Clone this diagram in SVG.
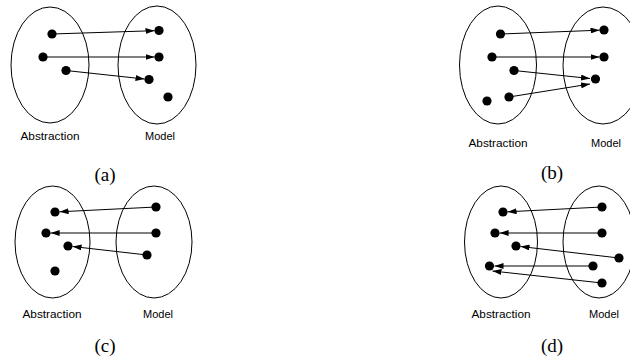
<svg xmlns="http://www.w3.org/2000/svg" width="630" height="360" viewBox="0 0 630 360">
<defs>
<marker id="ah" markerUnits="userSpaceOnUse" markerWidth="10" markerHeight="6" refX="9" refY="3" orient="auto">
<path d="M0,0 L9,3 L0,6 z" fill="#000"/>
</marker>
<style>
.set{fill:none;stroke:#000;stroke-width:1}
.dot{fill:#000}
.arr{stroke:#000;stroke-width:1;fill:none;marker-end:url(#ah)}
.lbl{font-family:"Liberation Sans",Arial,sans-serif;font-size:11px;fill:#000;text-anchor:middle}
.cap{font-family:"Liberation Serif","Times New Roman",serif;font-size:19px;fill:#000;text-anchor:middle}
</style>
</defs>
<rect width="630" height="360" fill="#fff"/>

<!-- Panel (a) -->
<g id="panel-a">
<g id="a-abstraction"><ellipse class="set" cx="50" cy="65" rx="39" ry="58"/>
<circle class="dot" cx="52" cy="34" r="4.6"/><circle class="dot" cx="43" cy="57" r="4.6"/><circle class="dot" cx="66" cy="70.5" r="4.6"/>
<text class="lbl" x="50" y="140" textLength="59" lengthAdjust="spacingAndGlyphs">Abstraction</text></g>
<g id="a-model"><ellipse class="set" cx="157" cy="65" rx="39" ry="59"/>
<circle class="dot" cx="159" cy="30.5" r="4.6"/><circle class="dot" cx="159" cy="57" r="4.6"/><circle class="dot" cx="149" cy="79.5" r="4.6"/><circle class="dot" cx="168" cy="97" r="4.6"/>
<text class="lbl" x="160" y="140">Model</text></g>
<text class="cap" x="105" y="180.5">(a)</text>
</g>

<!-- Panel (b) -->
<g id="panel-b">
<g id="b-abstraction"><ellipse class="set" cx="498" cy="65" rx="38.5" ry="59"/>
<circle class="dot" cx="500.5" cy="34" r="4.6"/><circle class="dot" cx="492" cy="57" r="4.6"/><circle class="dot" cx="514" cy="70.5" r="4.6"/><circle class="dot" cx="487" cy="101" r="4.6"/><circle class="dot" cx="509" cy="97" r="4.6"/>
<text class="lbl" x="498" y="147" textLength="59" lengthAdjust="spacingAndGlyphs">Abstraction</text></g>
<g id="b-model"><ellipse class="set" cx="603" cy="65.5" rx="40" ry="58.5"/>
<circle class="dot" cx="604" cy="30" r="4.6"/><circle class="dot" cx="604" cy="57" r="4.6"/><circle class="dot" cx="595.5" cy="79" r="4.6"/>
<text class="lbl" x="606" y="147">Model</text></g>
<text class="cap" x="552" y="179">(b)</text>
</g>

<!-- Panel (c) -->
<g id="panel-c">
<g id="c-abstraction"><ellipse class="set" cx="52.5" cy="242" rx="37.5" ry="56"/>
<circle class="dot" cx="55" cy="212" r="4.6"/><circle class="dot" cx="46" cy="233" r="4.6"/><circle class="dot" cx="68" cy="246" r="4.6"/><circle class="dot" cx="55" cy="271" r="4.6"/>
<text class="lbl" x="52" y="318" textLength="59" lengthAdjust="spacingAndGlyphs">Abstraction</text></g>
<g id="c-model"><ellipse class="set" cx="154" cy="242" rx="38" ry="56"/>
<circle class="dot" cx="156" cy="207" r="4.6"/><circle class="dot" cx="156" cy="233" r="4.6"/><circle class="dot" cx="147" cy="255" r="4.6"/>
<text class="lbl" x="158" y="318">Model</text></g>
<text class="cap" x="105" y="352">(c)</text>
</g>

<!-- Panel (d) -->
<g id="panel-d">
<g id="d-abstraction"><ellipse class="set" cx="501" cy="242" rx="36.5" ry="56"/>
<circle class="dot" cx="503" cy="212" r="4.6"/><circle class="dot" cx="495" cy="233" r="4.6"/><circle class="dot" cx="516" cy="246" r="4.6"/><circle class="dot" cx="489.5" cy="266" r="4.6"/>
<text class="lbl" x="501" y="318" textLength="59" lengthAdjust="spacingAndGlyphs">Abstraction</text></g>
<g id="d-model"><ellipse class="set" cx="599" cy="242" rx="36" ry="56"/>
<circle class="dot" cx="602" cy="207" r="4.6"/><circle class="dot" cx="602" cy="233" r="4.6"/><circle class="dot" cx="619" cy="258" r="4.6"/><circle class="dot" cx="593" cy="266" r="4.6"/><circle class="dot" cx="602" cy="283" r="4.6"/>
<text class="lbl" x="604" y="318">Model</text></g>
<text class="cap" x="552" y="351.5">(d)</text>
</g>

<g id="connectors">
<line class="arr" x1="52" y1="34" x2="154.5" y2="30.7"/>
<line class="arr" x1="43" y1="57" x2="154.5" y2="57"/>
<line class="arr" x1="66" y1="70.5" x2="144.5" y2="79"/>

<line class="arr" x1="500.5" y1="34" x2="599.5" y2="30.2"/>
<line class="arr" x1="492" y1="57" x2="599.5" y2="57"/>
<line class="arr" x1="514" y1="70.5" x2="590" y2="78.5"/>
<line class="arr" x1="509" y1="97" x2="590" y2="84"/>

<line class="arr" x1="156" y1="207" x2="59.6" y2="211.8"/>
<line class="arr" x1="156" y1="233" x2="50.6" y2="233"/>
<line class="arr" x1="147" y1="255" x2="72.6" y2="246.5"/>

<line class="arr" x1="602" y1="207" x2="507.6" y2="211.8"/>
<line class="arr" x1="602" y1="233" x2="499.6" y2="233"/>
<line class="arr" x1="619" y1="258" x2="520.6" y2="246.5"/>
<line class="arr" x1="593" y1="266" x2="494.5" y2="266"/>
<line class="arr" x1="602" y1="283" x2="492.5" y2="271"/>
</g>
</svg>
